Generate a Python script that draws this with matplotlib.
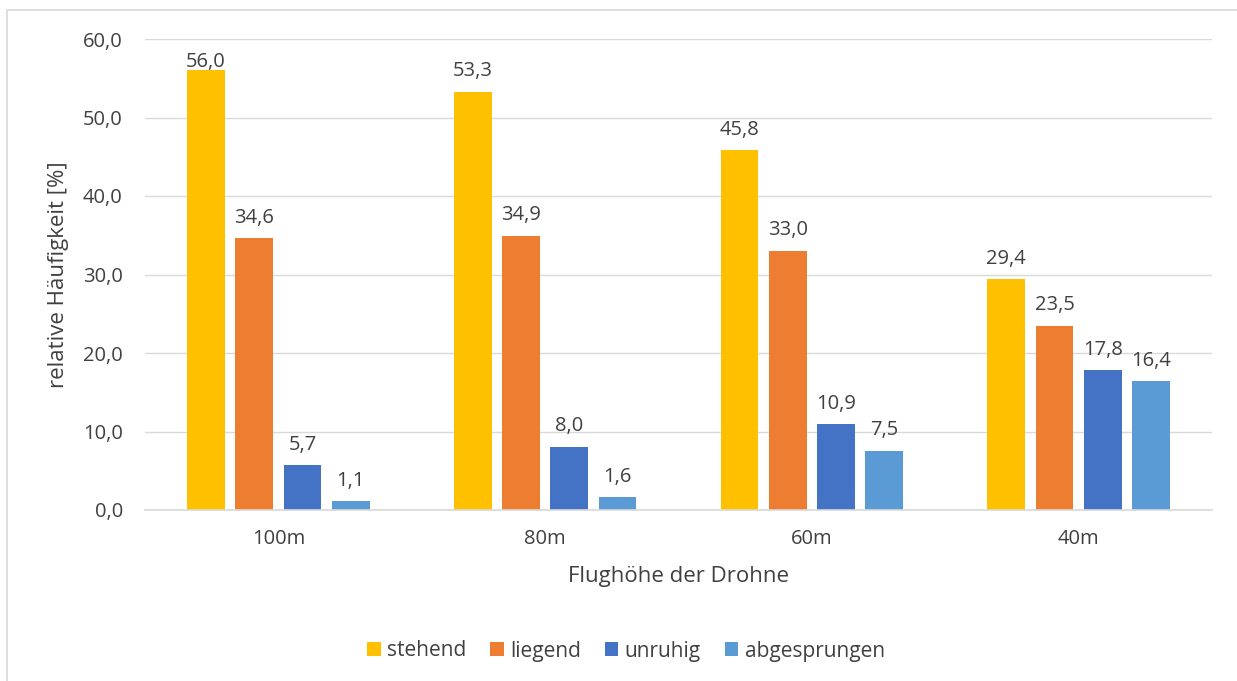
import matplotlib.pyplot as plt
import numpy as np
from matplotlib.patches import Rectangle

plt.rcParams['font.family'] = ['Open Sans', 'DejaVu Sans']

heights = ['100m', '80m', '60m', '40m']
series = ['stehend', 'liegend', 'unruhig', 'abgesprungen']
values = [
    [56.0, 53.3, 45.8, 29.4],
    [34.6, 34.9, 33.0, 23.5],
    [5.7, 8.0, 10.9, 17.8],
    [1.1, 1.6, 7.5, 16.4],
]
colors = ['#FFC000', '#ED7D31', '#4472C4', '#5B9BD5']
TEXT = '#404040'

fig = plt.figure(figsize=(12.37, 6.81), dpi=100)
# outer chart border (only left and top edges are visible in the reference)
fig.patches.append(Rectangle((7 / 1237, -0.01), 1.2, 1 - 10 / 681 + 0.01,
                             transform=fig.transFigure, fill=False,
                             edgecolor='#D9D9D9', lw=1.2))
ax = fig.add_axes([145 / 1237, 1 - 510 / 681, (1212 - 145) / 1237, (510 - 39) / 681])

x = np.arange(len(heights))
width = 0.142
step = 0.181
for i, (name, vals, col) in enumerate(zip(series, values, colors)):
    pos = x + (i - 1.5) * step
    bars = ax.bar(pos, vals, width, color=col, label=name, zorder=2)
    for b, v in zip(bars, vals):
        ax.text(b.get_x() + b.get_width() / 2, min(v + 2.0, 56.4),
                f'{v:.1f}'.replace('.', ','),
                ha='center', va='baseline', fontsize=14.5, color=TEXT)

ax.set_xlim(-0.5, len(heights) - 0.5)
ax.set_ylim(0, 60)
ax.set_yticks(np.arange(0, 61, 10))
ax.set_yticklabels([f'{t:.1f}'.replace('.', ',') for t in np.arange(0, 61, 10)])
ax.set_xticks(x)
ax.set_xticklabels(heights)
ax.tick_params(length=0, labelsize=14.5, labelcolor=TEXT, pad=14)
ax.tick_params(axis='y', pad=16)
ax.grid(axis='y', color='#D9D9D9', lw=1, zorder=0)
for s in ['top', 'right', 'left']:
    ax.spines[s].set_visible(False)
ax.spines['bottom'].set_color('#D9D9D9')
ax.spines['bottom'].set_linewidth(1.2)

ax.set_xlabel('Flughöhe der Drohne', fontsize=16, color=TEXT, labelpad=12)
ax.set_ylabel('relative Häufigkeit [%]', fontsize=16, color=TEXT, labelpad=10)

fig.legend(loc='center', bbox_to_anchor=(626 / 1237, 1 - 651 / 681), ncol=4,
           frameon=False, fontsize=15, handlelength=0.65, handleheight=0.65,
           handletextpad=0.3, columnspacing=1.15, labelcolor=TEXT)

fig.savefig('out.png', dpi=100)
